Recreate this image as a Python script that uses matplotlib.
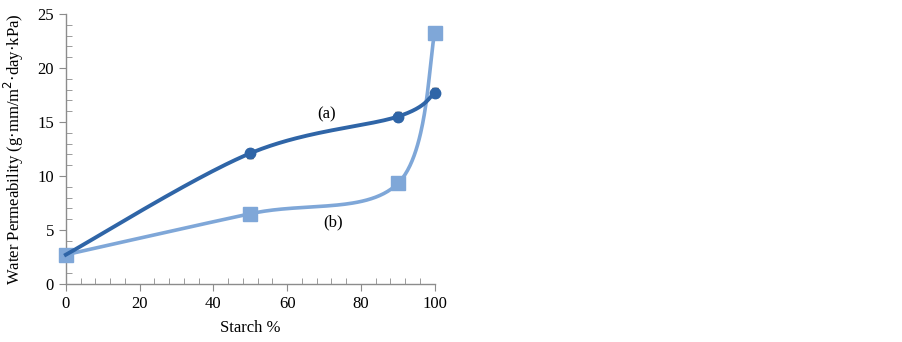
import numpy as np
import matplotlib
matplotlib.use("Agg")
import matplotlib.pyplot as plt
from matplotlib.ticker import MultipleLocator

# data
starch = [0, 50, 90, 100]
perm_a = [2.7, 12.1, 15.5, 17.7]
perm_a_err = [0.2, 0.4, 0.4, 0.4]
perm_b = [2.7, 6.5, 9.3, 23.2]

col_a = "#2F65A7"
col_b = "#7FA7D8"

plt.rcParams["font.family"] = ["Liberation Serif", "DejaVu Serif"]


def smooth(xs, ys, n=60):
    # Catmull-Rom style bezier smoothing (like a spreadsheet "smoothed line")
    xs = np.asarray(xs, float)
    ys = np.asarray(ys, float)
    px = np.concatenate([[xs[0]], xs, [xs[-1]]])
    py = np.concatenate([[ys[0]], ys, [ys[-1]]])
    out_x, out_y = [], []
    t = np.linspace(0, 1, n)
    for i in range(1, len(px) - 2):
        p0 = np.array([px[i], py[i]])
        p3 = np.array([px[i + 1], py[i + 1]])
        c1 = p0 + (np.array([px[i + 1], py[i + 1]]) - np.array([px[i - 1], py[i - 1]])) / 6
        c2 = p3 - (np.array([px[i + 2], py[i + 2]]) - np.array([px[i], py[i]])) / 6
        b = ((1 - t) ** 3)[:, None] * p0 + (3 * (1 - t) ** 2 * t)[:, None] * c1 \
            + (3 * (1 - t) * t ** 2)[:, None] * c2 + (t ** 3)[:, None] * p3
        out_x.extend(b[:, 0])
        out_y.extend(b[:, 1])
    return out_x, out_y


fig = plt.figure(figsize=(9.02, 3.42), dpi=100)
ax = fig.add_axes([0.073, 0.170, 0.409, 0.789])

bx, by = smooth(starch, perm_b)
ax.plot(bx, by, color=col_b, linewidth=2.6, zorder=2, clip_on=False)
ax.plot(starch, perm_b, linestyle="none", marker="s", markersize=10,
        color=col_b, zorder=3, clip_on=False)

axx, ayy = smooth(starch, perm_a)
ax.plot(axx, ayy, color=col_a, linewidth=2.8, zorder=4, clip_on=False)
eb = ax.errorbar(starch[1:], perm_a[1:], yerr=perm_a_err[1:], xerr=0.6,
                 fmt="o", markersize=7.5, color=col_a, ecolor="black",
                 elinewidth=0.8, capsize=2, zorder=5)
for artist in eb.get_children():
    artist.set_clip_on(False)

ax.text(70.7, 15.7, "(a)", fontsize=12, ha="center", va="center")
ax.text(72.4, 5.7, "(b)", fontsize=12, ha="center", va="center")

ax.set_xlim(0, 100)
ax.set_ylim(0, 25)
ax.xaxis.set_major_locator(MultipleLocator(20))
ax.xaxis.set_minor_locator(MultipleLocator(4))
ax.yaxis.set_major_locator(MultipleLocator(5))
ax.yaxis.set_minor_locator(MultipleLocator(1))

for side in ["top", "right"]:
    ax.spines[side].set_visible(False)
for side in ["left", "bottom"]:
    ax.spines[side].set_color("#8C8C8C")
    ax.spines[side].set_linewidth(1)

ax.tick_params(which="major", direction="out", length=5, color="#8C8C8C",
               labelsize=12)
ax.tick_params(which="minor", direction="in", length=4, color="#8C8C8C")

ax.set_xlabel("Starch %", fontsize=12, labelpad=6)
ax.set_ylabel("Water Permeability (g·mm/m$^{2}$·day·kPa)", fontsize=12,
              labelpad=8)

fig.savefig("out.png", dpi=100)
